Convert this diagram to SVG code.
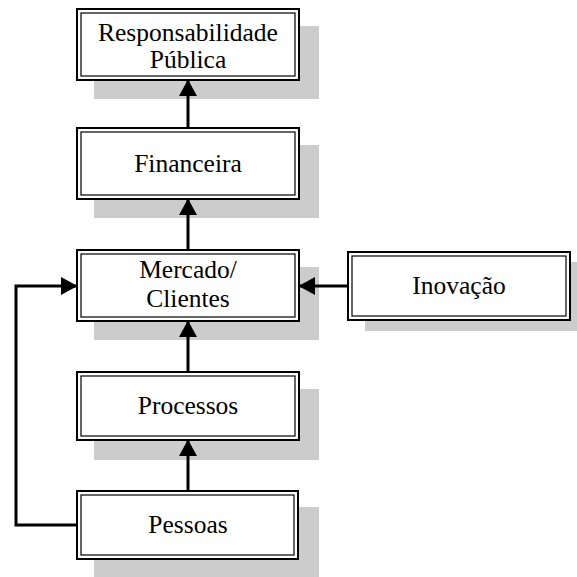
<svg xmlns="http://www.w3.org/2000/svg" width="577" height="577" viewBox="0 0 577 577">
  <style>
    .shadow { fill: #cccccc; }
    .outer { fill: #ffffff; stroke: #000; stroke-width: 2; }
    .inner { fill: none; stroke: #000; stroke-width: 1.2; }
    .lbl { font-family: "Liberation Serif", "Times New Roman", serif; font-size: 25.5px; fill: #000; text-anchor: middle; }
    .conn { fill: none; stroke: #000; stroke-width: 3; }
  </style>
  <defs>
    <marker id="arrow" markerWidth="5.5" markerHeight="6" refX="5" refY="3" orient="auto" markerUnits="strokeWidth">
      <path d="M0,0 L5.5,3 L0,6 Z" fill="#000"/>
    </marker>
  </defs>

  <g id="node-responsabilidade">
    <rect class="shadow" x="94" y="26" width="225" height="73"/>
    <rect class="outer" x="77" y="9" width="222" height="71"/>
    <rect class="inner" x="81" y="13" width="214" height="63"/>
    <text class="lbl" x="188" y="41">Responsabilidade</text>
    <text class="lbl" x="188" y="68">Pública</text>
  </g>

  <g id="node-financeira">
    <rect class="shadow" x="94" y="145" width="225" height="73"/>
    <rect class="outer" x="77" y="128" width="222" height="71"/>
    <rect class="inner" x="81" y="132" width="214" height="63"/>
    <text class="lbl" x="188" y="172">Financeira</text>
  </g>

  <g id="node-mercado">
    <rect class="shadow" x="94" y="267" width="225" height="73"/>
    <rect class="outer" x="77" y="250" width="222" height="71"/>
    <rect class="inner" x="81" y="254" width="214" height="63"/>
    <text class="lbl" x="188" y="278">Mercado/</text>
    <text class="lbl" x="188" y="307">Clientes</text>
  </g>

  <g id="node-inovacao">
    <rect class="shadow" x="365" y="262" width="212" height="69"/>
    <rect class="outer" x="348" y="252" width="222" height="68"/>
    <rect class="inner" x="352" y="256" width="214" height="60"/>
    <text class="lbl" x="459" y="294">Inovação</text>
  </g>

  <g id="node-processos">
    <rect class="shadow" x="94" y="389" width="225" height="71"/>
    <rect class="outer" x="77" y="372" width="222" height="68"/>
    <rect class="inner" x="81" y="376" width="214" height="60"/>
    <text class="lbl" x="188" y="414">Processos</text>
  </g>

  <g id="node-pessoas">
    <rect class="shadow" x="94" y="507" width="225" height="70"/>
    <rect class="outer" x="77" y="491" width="221" height="68"/>
    <rect class="inner" x="81" y="495" width="213" height="60"/>
    <text class="lbl" x="188" y="533">Pessoas</text>
  </g>

  <g id="connectors">
    <path class="conn" d="M188,128 L188,81" marker-end="url(#arrow)"/>
    <path class="conn" d="M188,250 L188,200" marker-end="url(#arrow)"/>
    <path class="conn" d="M188,372 L188,322" marker-end="url(#arrow)"/>
    <path class="conn" d="M188,491 L188,441" marker-end="url(#arrow)"/>
    <path class="conn" d="M348,286 L300,286" marker-end="url(#arrow)"/>
    <path class="conn" d="M77,525 L16,525 L16,286 L76,286" marker-end="url(#arrow)"/>
  </g>
</svg>
